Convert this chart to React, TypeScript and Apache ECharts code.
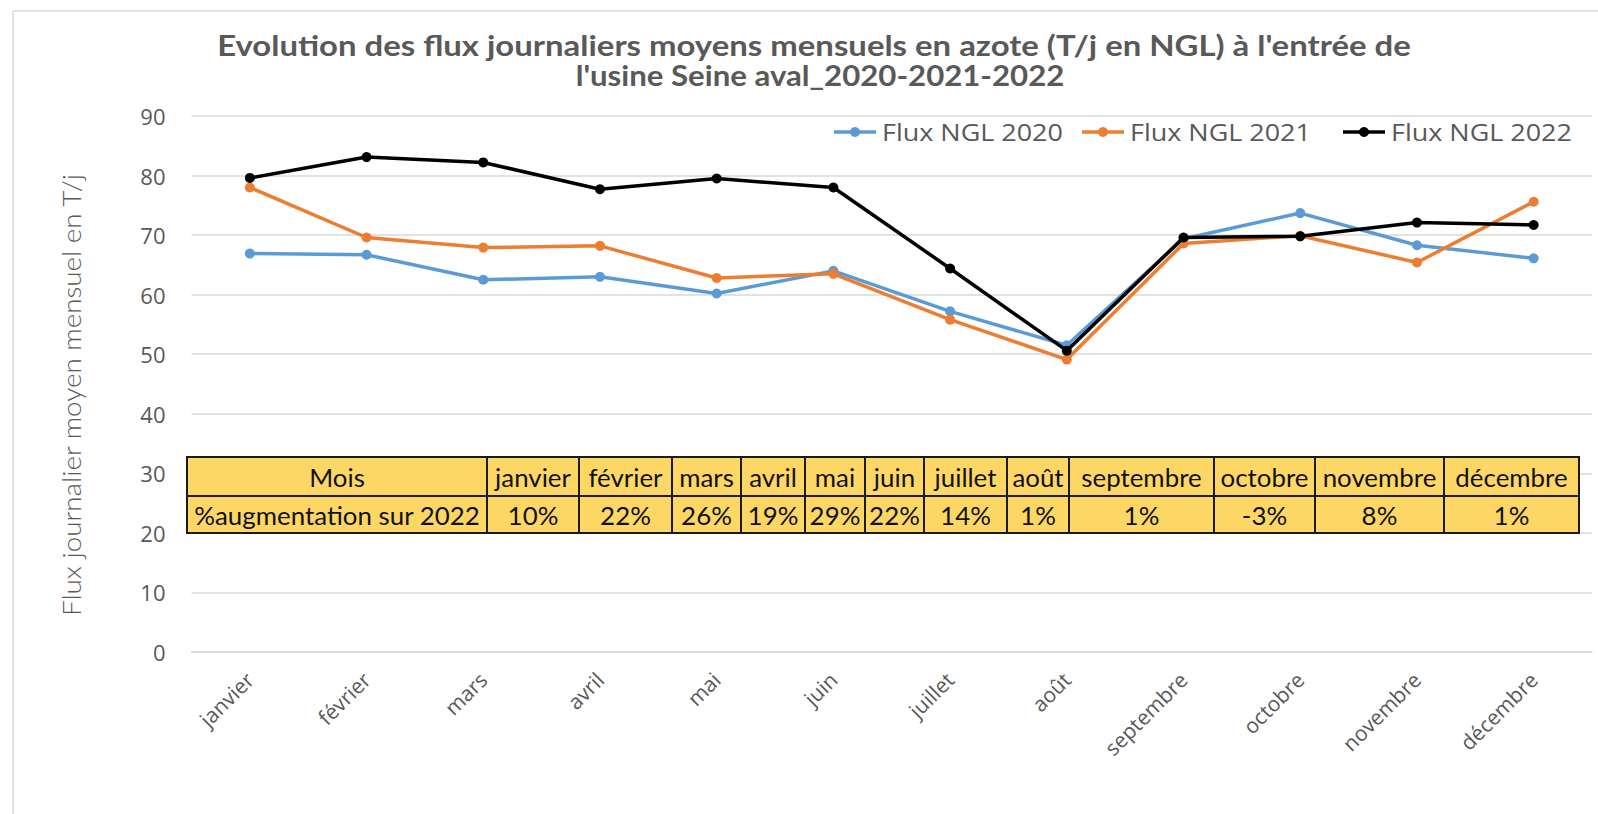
import React, { useEffect, useRef } from "react";
import * as echarts from "echarts";

const months = ["janvier", "février", "mars", "avril", "mai", "juin", "juillet", "août", "septembre", "octobre", "novembre", "décembre"];
const flux2020 = [66.9, 66.7, 62.5, 63.0, 60.2, 64.0, 57.2, 51.5, 69.4, 73.7, 68.3, 66.1];
const flux2021 = [78.0, 69.6, 67.9, 68.2, 62.8, 63.5, 55.8, 49.1, 68.6, 69.9, 65.4, 75.6];
const flux2022 = [79.6, 83.1, 82.2, 77.7, 79.5, 78.0, 64.4, 50.6, 69.6, 69.8, 72.1, 71.7];
const seriesNames = ["Flux NGL 2020", "Flux NGL 2021", "Flux NGL 2022"];
const seriesColors = ["#5B9BD5", "#ED7D31", "#000000"];
const tableHeadLabel = "Mois";
const tableRowLabel = "%augmentation sur 2022";
const increasePct = ["10%", "22%", "26%", "19%", "29%", "22%", "14%", "1%", "1%", "-3%", "8%", "1%"];
const titleLines = [
  "Evolution des flux journaliers moyens mensuels en azote (T/j en NGL) à l'entrée de",
  "l'usine Seine aval_2020-2021-2022",
];
const yAxisTitle = "Flux journalier moyen mensuel en T/j";
const yMin = 0;
const yMax = 90;
const yStep = 10;

const GREY = "#595959";
const CAL = "Lato, 'Open Sans', sans-serif";
const SEG = "'Open Sans', 'Noto Sans', sans-serif";

const measureCtx = (() => {
  const c = document.createElement("canvas");
  return c.getContext("2d") as CanvasRenderingContext2D;
})();
function fit(text: string, font: string, target: number) {
  measureCtx.font = font;
  const w = measureCtx.measureText(text).width || 1;
  return target / w;
}

export default function App() {
  const ref = useRef<HTMLDivElement>(null);
  useEffect(() => {
    document.body.style.margin = "0";
    const chart = echarts.init(ref.current!, null, { renderer: "svg" });

    const graphic: any[] = [];
    // outer frame
    graphic.push({ type: "line", z: 1, shape: { x1: 13, y1: 11, x2: 1598, y2: 11 }, style: { stroke: "#D9D9D9", lineWidth: 1.5 } });
    graphic.push({ type: "line", z: 1, shape: { x1: 13, y1: 11, x2: 13, y2: 814 }, style: { stroke: "#D9D9D9", lineWidth: 1.5 } });

    // title
    const titleFont = `bold 28px ${CAL}`;
    const tScale1 = fit(titleLines[0], titleFont, 1194);
    const tScale2 = fit(titleLines[1], titleFont, 489);
    graphic.push({ type: "text", x: 814, y: 45, scaleX: tScale1, z: 60, style: { text: titleLines[0], font: titleFont, fill: GREY, textAlign: "center", textVerticalAlign: "middle" } });
    graphic.push({ type: "text", x: 820, y: 75, scaleX: tScale2, z: 60, style: { text: titleLines[1], font: titleFont, fill: GREY, textAlign: "center", textVerticalAlign: "middle" } });

    // y axis title
    const yFont = `300 26px ${CAL}`;
    const yScale = fit(yAxisTitle, yFont, 444);
    graphic.push({ type: "text", x: 71, y: 395, rotation: Math.PI / 2, scaleX: yScale, z: 60, style: { text: yAxisTitle, font: yFont, fill: GREY, textAlign: "center", textVerticalAlign: "middle" } });

    // legend (manual)
    const legFont = `normal 23px ${SEG}`;
    const lScale = fit(seriesNames[0], legFont, 181);
    const legX = [834, 1082, 1343];
    const legY = 132;
    seriesNames.forEach((n, i) => {
      const x0 = legX[i];
      graphic.push({ type: "line", z: 60, shape: { x1: x0, y1: legY, x2: x0 + 42, y2: legY }, style: { stroke: seriesColors[i], lineWidth: 3.5 } });
      graphic.push({ type: "circle", z: 61, shape: { cx: x0 + 21, cy: legY, r: 5 }, style: { fill: seriesColors[i] } });
      graphic.push({ type: "text", x: x0 + 48, y: legY, scaleX: lScale, z: 60, style: { text: n, font: legFont, fill: GREY, textAlign: "left", textVerticalAlign: "middle" } });
    });

    // table
    const edges = [187, 487, 579, 672, 741, 805, 865, 924, 1007, 1069, 1214, 1315, 1444, 1579];
    const rows = [457, 496, 533];
    const tabFont = `normal 25px ${CAL}`;
    const tabScale = fit(tableRowLabel, tabFont, 286);
    const headCells = [tableHeadLabel, ...months];
    const valCells = [tableRowLabel, ...increasePct];
    for (let r = 0; r < 2; r++) {
      const cells = r === 0 ? headCells : valCells;
      for (let c = 0; c < cells.length; c++) {
        const x = edges[c], w = edges[c + 1] - edges[c];
        const y = rows[r], h = rows[r + 1] - rows[r];
        graphic.push({ type: "rect", z: 50, shape: { x, y, width: w, height: h }, style: { fill: "#FDD766", stroke: "#1A1A1A", lineWidth: 2 } });
        graphic.push({ type: "text", z: 55, x: x + w / 2, y: y + h / 2 + 1, scaleX: tabScale, style: { text: cells[c], font: tabFont, fill: "#111111", textAlign: "center", textVerticalAlign: "middle" } });
      }
    }

    const data = [flux2020, flux2021, flux2022];
    chart.setOption({
      animation: false,
      backgroundColor: "#FFFFFF",
      grid: { left: 191.5, right: 6, top: 116, bottom: 162, containLabel: false },
      xAxis: {
        type: "category",
        data: months,
        boundaryGap: true,
        axisLine: { show: true, lineStyle: { color: "#D9D9D9", width: 1.5 } },
        axisTick: { show: false },
        axisLabel: { rotate: 45, margin: 24, fontSize: 21, fontFamily: SEG, color: GREY, interval: 0 },
      },
      yAxis: {
        type: "value",
        min: yMin,
        max: yMax,
        interval: yStep,
        axisLine: { show: false },
        axisTick: { show: false },
        splitLine: { lineStyle: { color: "#D9D9D9", width: 1.5 } },
        axisLabel: { margin: 26, fontSize: 22, fontFamily: SEG, color: GREY },
      },
      series: data.map((d, i) => ({
        name: seriesNames[i],
        type: "line",
        data: d,
        symbol: "circle",
        symbolSize: 10,
        z: 3 + i,
        lineStyle: { color: seriesColors[i], width: 3.5 },
        itemStyle: { color: seriesColors[i] },
      })),
      graphic,
    });
    return () => chart.dispose();
  }, []);
  return <div ref={ref} style={{ width: 1598, height: 814 }} />;
}
